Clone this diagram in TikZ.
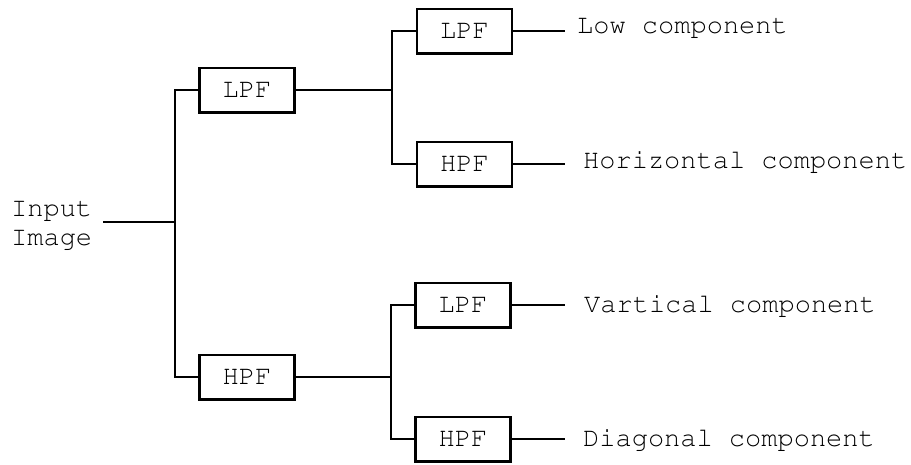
\documentclass[tikz,border=0pt]{standalone}
\usepackage[T1]{fontenc}

\begin{document}
\begin{tikzpicture}[x=1pt, y=-1pt,
    filt/.style={draw, line width=2.5pt, minimum width=95pt, minimum height=44.5pt,
      inner sep=0pt, font=\fontfamily{pcr}\fontsize{27}{29}\selectfont},
    wire/.style={line width=1.1pt},
    txt/.style={inner sep=0pt, font=\fontfamily{pcr}\fontsize{27}{29}\selectfont}]
  \useasboundingbox (0,0) rectangle (911,464);

  % input
  \node[txt, anchor=west, align=left] (inp) at (11,226) {Input\\Image};
  \coordinate (inpend) at (103,222);
  \coordinate (splitA) at (175,222);

  % first stage
  \node[filt] (lpfA) at (247,90) {LPF};
  \node[filt] (hpfA) at (247,377) {HPF};
  \coordinate (splitB) at (392,90);
  \coordinate (splitC) at (391,377);

  % second stage
  \node[filt] (lpfB) at (464.5,31) {LPF};
  \node[filt] (hpfB) at (464.5,164) {HPF};
  \node[filt] (lpfC) at (463,305) {LPF};
  \node[filt] (hpfC) at (463,439) {HPF};

  % outputs
  \coordinate (outB1) at (565,31);
  \coordinate (outB2) at (565,164);
  \coordinate (outC1) at (565,305);
  \coordinate (outC2) at (565,439);
  \node[txt, anchor=base west] (low)  at (577,33)  {Low component};
  \node[txt, anchor=base west] (hor)  at (583,168) {Horizontal component};
  \node[txt, anchor=base west] (ver)  at (584,312) {Vartical component};
  \node[txt, anchor=base west] (diag) at (583,446) {Diagonal component};

  \draw[wire] (inpend) -- (splitA);
  \draw[wire] (lpfA.west) -| (splitA) |- (hpfA.west);

  \draw[wire] (lpfA.east) -- (splitB);
  \draw[wire] (lpfB.west) -| (splitB) |- (hpfB.west);
  \draw[wire] (hpfA.east) -- (splitC);
  \draw[wire] (lpfC.west) -| (splitC) |- (hpfC.west);

  \draw[wire] (lpfB.east) -- (outB1);
  \draw[wire] (hpfB.east) -- (outB2);
  \draw[wire] (lpfC.east) -- (outC1);
  \draw[wire] (hpfC.east) -- (outC2);
\end{tikzpicture}
\end{document}
